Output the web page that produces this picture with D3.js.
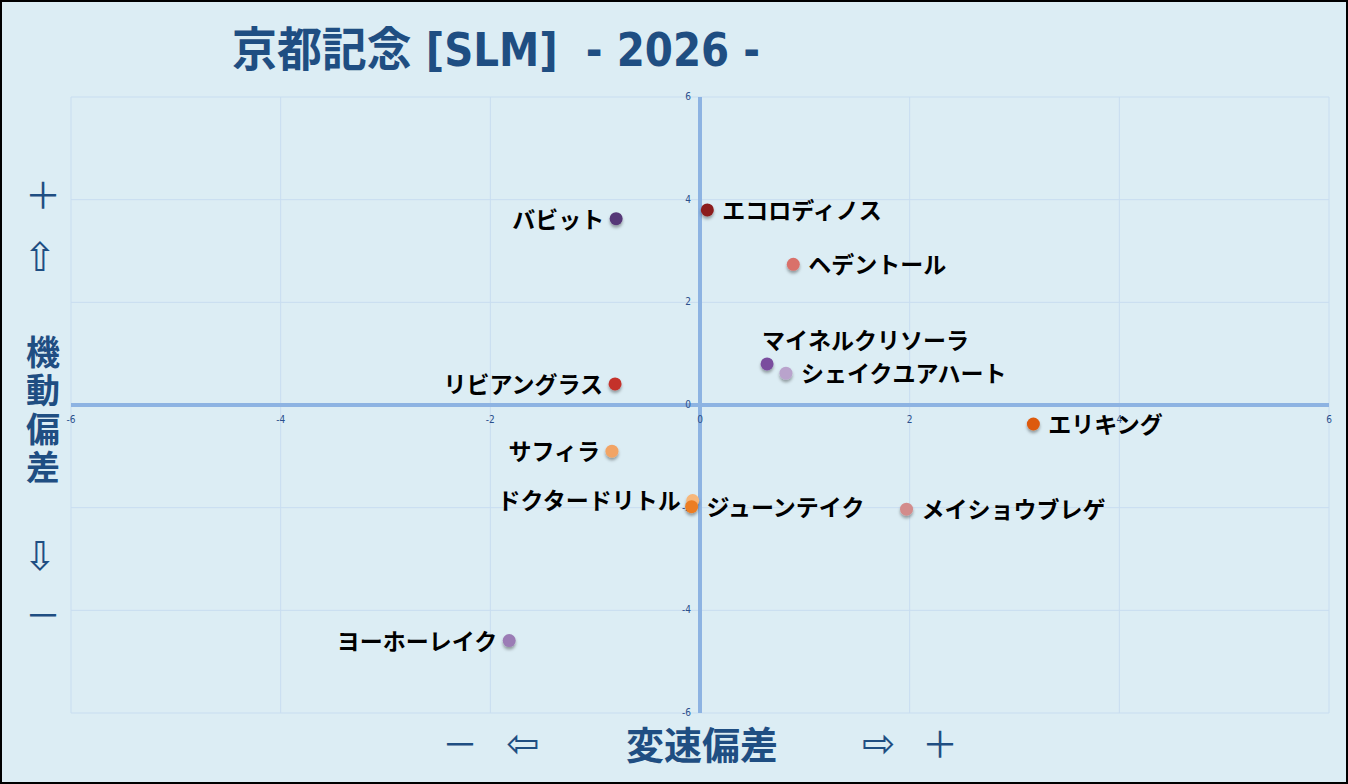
<!DOCTYPE html>
<html>
<head>
<meta charset="utf-8">
<script src="https://cdn.jsdelivr.net/npm/d3@7"></script>
<style>
  html, body { margin: 0; padding: 0; background: #dcedf4; }
  svg { display: block; }
  .tick-label { font-family: "DejaVu Sans Condensed", "Liberation Sans", sans-serif; font-size: 10px; fill: #2a4f8c; }
  .horse { font-family: "Noto Sans CJK JP", sans-serif; font-weight: 700; font-size: 23px; fill: #000; }
  .side { font-family: "Noto Sans CJK JP", sans-serif; font-weight: 700; fill: #1f4e82; }
  .arrow { font-family: "DejaVu Sans", sans-serif; font-weight: 400; fill: #1f4e82; }
</style>
</head>
<body>
<svg id="chart"></svg>
<script>
// horses and their deviations (x: 変速偏差, y: 機動偏差)
const horses = ['バビット', 'エコロディノス', 'ヘデントール', 'マイネルクリソーラ', 'シェイクユアハート', 'リビアングラス',
                'エリキング', 'サフィラ', 'ドクタードリトル', 'ジューンテイク', 'メイショウブレゲ', 'ヨーホーレイク'];
const speedDev = [-0.80, 0.07, 0.89, 0.64, 0.82, -0.81, 3.18, -0.84, -0.07, -0.08, 1.97, -1.82];
const mobilityDev = [3.63, 3.80, 2.74, 0.80, 0.62, 0.41, -0.37, -0.90, -1.86, -1.98, -2.03, -4.59];
const ticks = [-6, -4, -2, 0, 2, 4, 6];

// marker colours and where each label sits
const markerColor = {
    'バビット': '#573778', 'エコロディノス': '#8c1c1c', 'ヘデントール': '#d9716b', 'マイネルクリソーラ': '#7a4e9e',
    'シェイクユアハート': '#b9a3cc', 'リビアングラス': '#c4302b', 'エリキング': '#dd5a0c', 'サフィラ': '#f2a465',
    'ドクタードリトル': '#f7b77a', 'ジューンテイク': '#ec7d22', 'メイショウブレゲ': '#d38b8b', 'ヨーホーレイク': '#9b7cb5'
};
const labelSide = {
    'バビット': 'left', 'リビアングラス': 'left', 'サフィラ': 'left', 'ドクタードリトル': 'left', 'ヨーホーレイク': 'left',
    'マイネルクリソーラ': 'above'
};

const W = 1348, H = 784;
const plot = { left: 71, right: 1329, top: 97, bottom: 713 };

const svg = d3.select('#chart').attr('width', W).attr('height', H);

const defs = svg.append('defs');
const shadow = defs.append('filter').attr('id', 'shadow')
    .attr('x', '-60%').attr('y', '-60%').attr('width', '220%').attr('height', '220%');
shadow.append('feDropShadow').attr('dx', 0).attr('dy', 2.5).attr('stdDeviation', 1.6)
    .attr('flood-color', '#000').attr('flood-opacity', 0.35);

svg.append('rect').attr('x', 1).attr('y', 1).attr('width', W - 2).attr('height', H - 2)
    .attr('fill', '#dcedf4').attr('stroke', '#000').attr('stroke-width', 2);

const x = d3.scaleLinear().domain([-6, 6]).range([plot.left, plot.right]);
const y = d3.scaleLinear().domain([-6, 6]).range([plot.bottom, plot.top]);

// grid
const grid = svg.append('g');
grid.selectAll('.vg').data(ticks).join('line')
    .attr('x1', d => x(d)).attr('x2', d => x(d))
    .attr('y1', plot.top).attr('y2', plot.bottom)
    .attr('stroke', '#c8ddf0').attr('stroke-width', 1);
grid.selectAll('.hg').data(ticks).join('line')
    .attr('x1', plot.left).attr('x2', plot.right)
    .attr('y1', d => y(d)).attr('y2', d => y(d))
    .attr('stroke', '#c8ddf0').attr('stroke-width', 1);

// zero axes
svg.append('line').attr('x1', x(0)).attr('x2', x(0)).attr('y1', plot.top).attr('y2', plot.bottom)
    .attr('stroke', '#8db3e2').attr('stroke-width', 4);
svg.append('line').attr('x1', plot.left).attr('x2', plot.right).attr('y1', y(0)).attr('y2', y(0))
    .attr('stroke', '#8db3e2').attr('stroke-width', 4);

// tick labels
svg.selectAll('.xt').data(ticks).join('text')
    .attr('class', 'tick-label')
    .attr('x', d => x(d)).attr('y', y(0) + 18)
    .attr('text-anchor', 'middle')
    .text(d => d);
svg.selectAll('.yt').data(ticks).join('text')
    .attr('class', 'tick-label')
    .attr('x', x(0) - 9).attr('y', d => y(d) + 3)
    .attr('text-anchor', 'end')
    .text(d => d);

// points
const pts = horses.map((h, i) => ({ name: h, sx: speedDev[i], my: mobilityDev[i] }));

svg.selectAll('.dot').data(pts).join('circle')
    .attr('cx', d => x(d.sx)).attr('cy', d => y(d.my)).attr('r', 6.5)
    .attr('fill', d => markerColor[d.name])
    .attr('filter', 'url(#shadow)');

svg.selectAll('.horse').data(pts).join('text')
    .attr('class', 'horse')
    .attr('x', d => {
        const side = labelSide[d.name] || 'right';
        if (side === 'left') return x(d.sx) - 12;
        if (side === 'above') return x(d.sx) - 5;
        return x(d.sx) + 15;
    })
    .attr('y', d => (labelSide[d.name] === 'above' ? y(d.my) - 25 : y(d.my) - 1))
    .attr('dominant-baseline', 'central')
    .attr('text-anchor', d => (labelSide[d.name] === 'left' ? 'end' : 'start'))
    .text(d => d.name);

// title
svg.append('text')
    .attr('x', 232).attr('y', 66)
    .attr('textLength', 528).attr('lengthAdjust', 'spacingAndGlyphs')
    .style('font-family', '"DejaVu Sans Condensed", "Noto Sans CJK JP", sans-serif')
    .style('font-weight', 700).style('font-size', '47px').style('fill', '#1f4e82')
    .style('white-space', 'pre')
    .text('京都記念 [SLM]  - 2026 -');

// vertical (left) axis caption
const left = svg.append('g');
left.append('text').attr('class', 'side').attr('x', 43).attr('y', 193).attr('text-anchor', 'middle')
    .attr('dominant-baseline', 'central').style('font-size', '36px').style('font-weight', 400).text('＋');
left.append('text').attr('class', 'arrow').attr('x', 40).attr('y', 257).attr('text-anchor', 'middle')
    .attr('dominant-baseline', 'central').style('font-size', '40px').text('⇧');
['機', '動', '偏', '差'].forEach((c, i) => {
    left.append('text').attr('class', 'side').attr('x', 43).attr('y', 350 + i * 38.5)
        .attr('text-anchor', 'middle').attr('dominant-baseline', 'central')
        .style('font-size', '34px').text(c);
});
left.append('text').attr('class', 'arrow').attr('x', 40).attr('y', 556).attr('text-anchor', 'middle')
    .attr('dominant-baseline', 'central').style('font-size', '40px').text('⇩');
left.append('text').attr('class', 'side').attr('x', 43).attr('y', 613).attr('text-anchor', 'middle')
    .attr('dominant-baseline', 'central').style('font-size', '36px').style('font-weight', 400).text('－');

// horizontal (bottom) axis caption
const bottom = svg.append('g');
bottom.append('text').attr('class', 'side').attr('x', 460).attr('y', 742).attr('text-anchor', 'middle')
    .attr('dominant-baseline', 'central').style('font-size', '36px').style('font-weight', 400).text('－');
bottom.append('text').attr('class', 'arrow').attr('x', 523).attr('y', 743).attr('text-anchor', 'middle')
    .attr('dominant-baseline', 'central').style('font-size', '40px').text('⇦');
bottom.append('text').attr('class', 'side').attr('x', 702).attr('y', 742).attr('text-anchor', 'middle')
    .attr('dominant-baseline', 'central').style('font-size', '38px').text('変速偏差');
bottom.append('text').attr('class', 'arrow').attr('x', 879).attr('y', 743).attr('text-anchor', 'middle')
    .attr('dominant-baseline', 'central').style('font-size', '40px').text('⇨');
bottom.append('text').attr('class', 'side').attr('x', 940).attr('y', 742).attr('text-anchor', 'middle')
    .attr('dominant-baseline', 'central').style('font-size', '36px').style('font-weight', 400).text('＋');
</script>
</body>
</html>
